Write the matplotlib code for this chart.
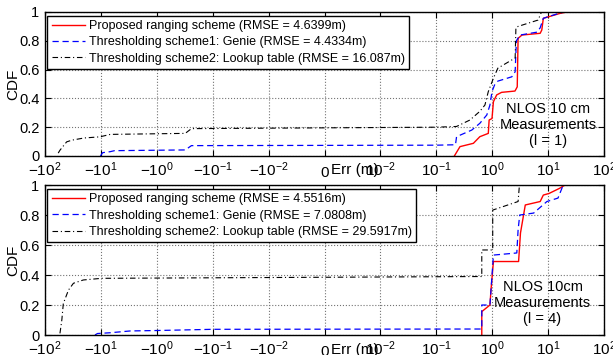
import matplotlib
matplotlib.use('Agg')
import matplotlib.pyplot as plt
from matplotlib.transforms import ScaledTranslation

plt.rcParams['font.family'] = ['Liberation Sans', 'DejaVu Sans']
plt.rcParams['mathtext.fontset'] = 'custom'
plt.rcParams['mathtext.rm'] = 'Liberation Sans'
plt.rcParams['mathtext.it'] = 'Liberation Sans:italic'

# ---- data (error in m, CDF) ----
# panel 1: NLOS 10 cm, l = 1
top_prop_x = [0.21, 0.265, 0.46, 0.6, 0.85, 0.88, 0.99, 1.05, 1.2, 1.47, 2.55, 2.8, 2.9, 3.4, 7.2, 7.7, 8.2, 16.2, 21.5]
top_prop_y = [0.0, 0.065, 0.088, 0.134, 0.157, 0.25, 0.26, 0.377, 0.424, 0.442, 0.451, 0.48, 0.817, 0.84, 0.852, 0.875, 0.956, 0.99, 1.0]

top_genie_x = [-10.2, -9.3, -6.8, -5.7, -0.31, -0.24, 0.1, 0.22, 0.23, 0.43, 0.6, 0.8, 0.91, 0.99, 1.1, 1.26, 2.24, 2.57, 2.7, 3.15, 6.3, 7.2, 8.2, 10.4, 19.0]
top_genie_y = [0.0, 0.023, 0.03, 0.037, 0.042, 0.072, 0.075, 0.078, 0.134, 0.18, 0.227, 0.285, 0.354, 0.447, 0.493, 0.52, 0.55, 0.585, 0.8, 0.84, 0.86, 0.89, 0.956, 0.97, 1.0]

top_lut_x = [-58, -54, -41, -33, -20, -10.4, -6.8, -0.31, -0.24, 0.1, 0.23, 0.4, 0.6, 0.74, 0.85, 1.05, 1.26, 2.24, 2.57, 2.65, 2.9, 6.6, 7.6]
top_lut_y = [0.02, 0.04, 0.098, 0.11, 0.125, 0.133, 0.15, 0.157, 0.19, 0.2, 0.205, 0.25, 0.31, 0.354, 0.447, 0.54, 0.61, 0.667, 0.68, 0.89, 0.9, 0.944, 1.0]

# panel 2: NLOS 10 cm, l = 4
bot_prop_x = [0.65, 0.65, 0.91, 0.95, 1.05, 2.96, 3.2, 3.9, 7.2, 8.2, 10.4, 16.0, 20.0]
bot_prop_y = [0.0, 0.156, 0.2, 0.3, 0.49, 0.49, 0.68, 0.867, 0.89, 0.933, 0.944, 0.978, 1.0]

bot_genie_x = [-12.8, -11.5, -6.9, -3.0, -1.0, -0.1, 0.65, 0.65, 0.91, 1.05, 2.75, 2.9, 3.1, 5.5, 9.5, 15.0, 18.6]
bot_genie_y = [0.0, 0.01, 0.015, 0.027, 0.03, 0.038, 0.04, 0.2, 0.2, 0.533, 0.547, 0.7, 0.8, 0.813, 0.89, 0.913, 1.0]

bot_lut_x = [-54, -50, -47, -38, -31, -20.6, -9.7, 0.65, 0.65, 1.02, 1.02, 2.9, 3.05, 3.1]
bot_lut_y = [0.011, 0.1, 0.21, 0.3, 0.345, 0.367, 0.378, 0.39, 0.567, 0.567, 0.833, 0.89, 0.99, 1.0]

labels_top = ['Proposed ranging scheme (RMSE = 4.6399m)',
              'Thresholding scheme1: Genie (RMSE = 4.4334m)',
              'Thresholding scheme2: Lookup table (RMSE = 16.087m)']
labels_bot = ['Proposed ranging scheme (RMSE = 4.5516m)',
              'Thresholding scheme1: Genie (RMSE = 7.0808m)',
              'Thresholding scheme2: Lookup table (RMSE = 29.5917m)']

xticks = [-100, -10, -1, -0.1, -0.01, 0, 0.01, 0.1, 1, 10, 100]
xticklabels = [r'$-10^{2}$', r'$-10^{1}$', r'$-10^{0}$', r'$-10^{-1}$', r'$-10^{-2}$', '0',
               r'$10^{-2}$', r'$10^{-1}$', r'$10^{0}$', r'$10^{1}$', r'$10^{2}$']
yticks = [0, 0.2, 0.4, 0.6, 0.8, 1]
yticklabels = ['0', '0.2', '0.4', '0.6', '0.8', '1']


def setup(ax, series, labels, note, note_pos):
    (x1, y1), (x2, y2), (x3, y3) = series
    ax.plot(x1, y1, '-', color='red', lw=1.0, label=labels[0])
    ax.plot(x2, y2, '--', color='blue', lw=0.9, dashes=(5, 3), label=labels[1])
    ax.plot(x3, y3, '-.', color='black', lw=0.8, dashes=(5, 2.5, 1, 2.5), label=labels[2])

    ax.set_xscale('symlog', linthresh=0.01, linscale=0.9)
    ax.set_xlim(-100, 100)
    ax.set_ylim(0, 1)
    ax.set_xticks(xticks)
    ax.set_xticklabels(xticklabels)
    ax.set_yticks(yticks)
    ax.set_yticklabels(yticklabels)
    ax.xaxis.set_minor_locator(matplotlib.ticker.NullLocator())
    ax.tick_params(direction='in', top=True, right=True, length=4, width=0.8)
    ax.tick_params(axis='x', labelsize=11, pad=3)
    ax.tick_params(axis='y', labelsize=10.5, pad=4)
    ax.grid(True, linestyle=':', color='0.45', linewidth=0.8)
    for s in ax.spines.values():
        s.set_linewidth(1.0)

    # the plain "0" sits on the same baseline as the 10^n labels
    for lab in ax.get_xticklabels():
        if lab.get_text() == '0':
            lab.set_transform(lab.get_transform() + ScaledTranslation(0, -4 / 72, ax.figure.dpi_scale_trans))

    ax.set_ylabel('CDF', fontsize=11)
    ax.yaxis.set_label_coords(-0.045, 0.5)
    ax.set_xlabel('Err (m)', fontsize=11, ha='left')
    ax.xaxis.set_label_coords(0.511, -0.05)

    leg = ax.legend(loc='upper left', bbox_to_anchor=(0.004, 0.975), borderaxespad=0,
                    fontsize=9, handlelength=2.7, handletextpad=0.3, labelspacing=0.35,
                    borderpad=0.35, fancybox=False, framealpha=1, edgecolor='black')
    leg.get_frame().set_linewidth(1.0)

    ax.text(note_pos[0], note_pos[1], note, transform=ax.transAxes, ha='center', va='center',
            fontsize=10.5, linespacing=1.15)


fig = plt.figure(figsize=(6.13, 3.55), dpi=100)

ax1 = fig.add_axes([0.0734, 0.5606, 0.912, 0.4056])
setup(ax1, [(top_prop_x, top_prop_y), (top_genie_x, top_genie_y), (top_lut_x, top_lut_y)],
      labels_top, 'NLOS 10 cm\nMeasurements\n(l = 1)', (0.9, 0.215))

ax2 = fig.add_axes([0.0734, 0.0563, 0.912, 0.4225])
setup(ax2, [(bot_prop_x, bot_prop_y), (bot_genie_x, bot_genie_y), (bot_lut_x, bot_lut_y)],
      labels_bot, 'NLOS 10cm\nMeasurements\n(l = 4)', (0.89, 0.213))

fig.savefig('out.png', dpi=100)
